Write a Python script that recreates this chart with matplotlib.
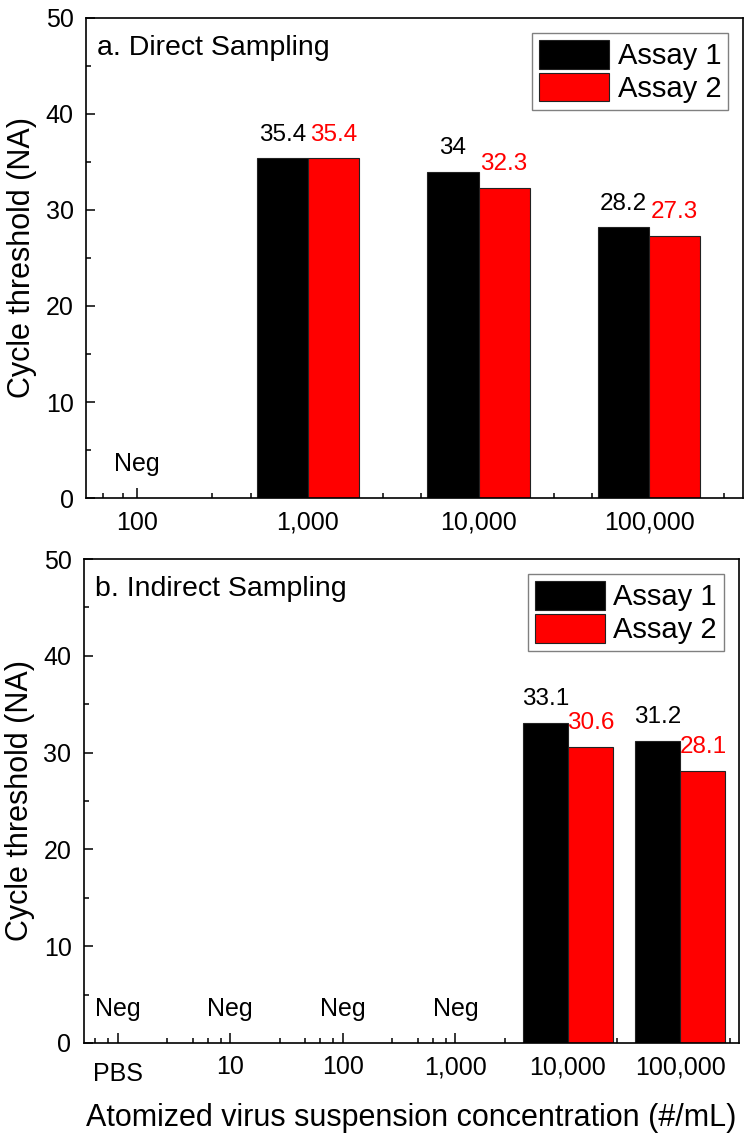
import matplotlib
matplotlib.use('Agg')
import matplotlib.pyplot as plt
import matplotlib.transforms as mtransforms
import numpy as np

plt.rcParams['font.family'] = ['Liberation Sans', 'DejaVu Sans']

# --- data (None = negative, no Ct) ---
cats_a = ["100", "1,000", "10,000", "100,000"]
assay1_a = [None, 35.4, 34.0, 28.2]
assay2_a = [None, 35.4, 32.3, 27.3]

cats_b = ["PBS", "10", "100", "1,000", "10,000", "100,000"]
assay1_b = [None, None, None, None, 33.1, 31.2]
assay2_b = [None, None, None, None, 30.6, 28.1]

titles = ["a. Direct Sampling", "b. Indirect Sampling"]
series_names = ["Assay 1", "Assay 2"]
colors = ["#000000", "#ff0000"]
minor_frac = [0.44, 0.665, 0.80, 0.915]


def draw_panel(ax, cats, s1, s2, title, width, xlim):
    x = np.arange(len(cats))
    v1 = np.array([np.nan if v is None else v for v in s1])
    v2 = np.array([np.nan if v is None else v for v in s2])
    ax.set_axisbelow(True)
    ax.bar(x - width / 2, v1, width, color=colors[0], edgecolor="#222222",
           linewidth=0.8, label=series_names[0])
    ax.bar(x + width / 2, v2, width, color=colors[1], edgecolor="#222222",
           linewidth=0.8, label=series_names[1])

    for i in range(len(cats)):
        if s1[i] is None and s2[i] is None:
            ax.text(x[i], 2.3, "Neg", ha="center", va="bottom", fontsize=18)
            continue
        ax.text(x[i] - width / 2, s1[i] + 1.3, f"{s1[i]:g}", ha="center",
                va="bottom", fontsize=17.5, color=colors[0])
        ax.text(x[i] + width / 2, s2[i] + 1.3, f"{s2[i]:g}", ha="center",
                va="bottom", fontsize=17.5, color=colors[1])

    ax.set_xlim(*xlim)
    ax.set_ylim(0, 50)
    ax.set_xticks(x)
    ax.set_xticklabels(cats)
    minors = [k + f for k in range(-1, len(cats)) for f in minor_frac]
    minors = [m for m in minors if xlim[0] < m < xlim[1]]
    ax.set_xticks(minors, minor=True)
    ax.set_yticks(np.arange(0, 51, 10))
    ax.set_yticks(np.arange(5, 50, 10), minor=True)
    ax.tick_params(axis="both", which="both", direction="in", labelsize=18,
                   top=False, right=False, width=1.1)
    ax.tick_params(axis="x", which="major", length=7, pad=9)
    ax.tick_params(axis="x", which="minor", length=3.6)
    ax.tick_params(axis="y", which="major", length=6.5, pad=9)
    ax.tick_params(axis="y", which="minor", length=3.6)
    for sp in ax.spines.values():
        sp.set_linewidth(1.2)

    ax.set_ylabel("Cycle threshold (NA)", fontsize=22, labelpad=6)
    ax.text(0.017, 0.965, title, transform=ax.transAxes, ha="left", va="top",
            fontsize=20.5)
    leg = ax.legend(loc="upper right", fontsize=21, frameon=True, fancybox=False,
                    framealpha=1, edgecolor="#808080", handlelength=2.4,
                    handleheight=1.15, labelspacing=0.08, borderpad=0.25,
                    handletextpad=0.28, borderaxespad=0.5)
    leg.get_frame().set_linewidth(1.0)


fig = plt.figure(figsize=(7.5, 11.36), dpi=100)
ax_a = fig.add_axes([0.1147, 0.5616, 0.8760, 0.4226])
ax_b = fig.add_axes([0.1120, 0.0819, 0.8733, 0.4260])

draw_panel(ax_a, cats_a, assay1_a, assay2_a, titles[0], 0.30, (-0.30, 3.55))
draw_panel(ax_b, cats_b, assay1_b, assay2_b, titles[1], 0.40, (-0.30, 5.52))

# PBS label sits a little lower than the numeric ones
pbs = ax_b.get_xticklabels()[0]
pbs.set_transform(pbs.get_transform() +
                  mtransforms.ScaledTranslation(0, -5 / 72, fig.dpi_scale_trans))

ax_b.set_xlabel("Atomized virus suspension concentration (#/mL)", fontsize=22,
                labelpad=12)

fig.savefig("out.png", dpi=100)
